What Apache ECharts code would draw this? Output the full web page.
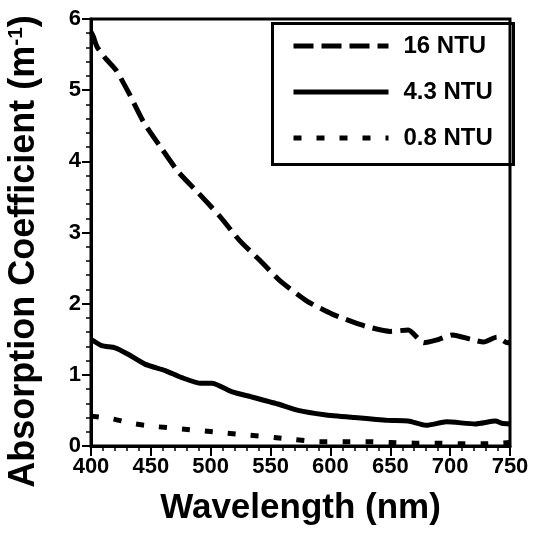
<!DOCTYPE html>
<html>
<head>
<meta charset="utf-8">
<script src="https://cdn.jsdelivr.net/npm/echarts@6/dist/echarts.min.js"></script>
<style>html,body{margin:0;padding:0;background:#fff}#c{width:533px;height:533px}</style>
</head>
<body>
<div id="c"></div>
<script>
// Series names
var seriesNames = ['16 NTU', '4.3 NTU', '0.8 NTU'];
// 16 NTU
var wl16 = [400, 402, 405, 412, 421, 431, 444, 459, 473, 490, 508, 524, 541, 558, 580, 602, 628, 650, 665, 678, 689, 702, 717, 728, 739, 748, 750];
var a16 = [5.82, 5.75, 5.61, 5.45, 5.28, 4.98, 4.55, 4.18, 3.85, 3.55, 3.22, 2.89, 2.61, 2.32, 2.04, 1.85, 1.69, 1.61, 1.63, 1.45, 1.49, 1.56, 1.50, 1.46, 1.53, 1.45, 1.46];
// 4.3 NTU
var wl43 = [400, 409, 420, 431, 445, 462, 476, 492, 501, 518, 534, 556, 573, 595, 620, 648, 665, 680, 697, 721, 738, 743, 750];
var a43 = [1.50, 1.41, 1.38, 1.29, 1.15, 1.06, 0.96, 0.88, 0.88, 0.76, 0.69, 0.59, 0.50, 0.44, 0.40, 0.36, 0.35, 0.29, 0.34, 0.31, 0.35, 0.32, 0.31];
// 0.8 NTU
var wl08 = [400, 418, 437, 456, 476, 495, 514, 533, 553, 571, 591, 611, 630, 650, 670, 689, 708, 728, 750];
var a08 = [0.42, 0.38, 0.31, 0.27, 0.24, 0.21, 0.18, 0.15, 0.12, 0.09, 0.06, 0.06, 0.06, 0.05, 0.04, 0.04, 0.03, 0.03, 0.05];

function pairs(xs, ys) { return xs.map(function (x, i) { return [x, ys[i]]; }); }

var FONT = 'Liberation Sans, Arial, Helvetica, sans-serif';
var chart = echarts.init(document.getElementById('c'), null, { renderer: 'canvas' });
chart.setOption({
  backgroundColor: '#fff',
  animation: false,
  grid: { left: 91, right: 23, top: 19, bottom: 87, show: true, borderColor: '#000', borderWidth: 3, backgroundColor: 'transparent', containLabel: false, outerBoundsMode: 'none' },
  xAxis: {
    type: 'value', min: 400, max: 750, interval: 50,
    name: 'Wavelength (nm)', nameLocation: 'middle', nameGap: 45,
    nameTextStyle: { fontFamily: FONT, fontWeight: 'bold', fontSize: 35, color: '#000' },
    axisLine: { show: true, onZero: false, lineStyle: { color: '#000', width: 3 } },
    axisTick: { show: true, length: 10, lineStyle: { color: '#000', width: 2 } },
    minorTick: { show: true, splitNumber: 5, length: 5, lineStyle: { color: '#000', width: 1.5 } },
    splitLine: { show: false },
    axisLabel: { margin: 10, fontFamily: FONT, fontWeight: 'bold', fontSize: 22, color: '#000' }
  },
  yAxis: {
    type: 'value', min: 0, max: 6, interval: 1,
    name: 'Absorption Coefficient (m{sup|-1})', nameLocation: 'middle', nameGap: 49, nameRotate: 90,
    nameTextStyle: { fontFamily: FONT, fontWeight: 'bold', fontSize: 36, color: '#000', padding: [0, 38, 0, 0],
      rich: { sup: { fontFamily: FONT, fontWeight: 'bold', fontSize: 21, color: '#000', verticalAlign: 'top', padding: [0, 0, 14, 0] } } },
    axisLine: { show: true, onZero: false, lineStyle: { color: '#000', width: 3 } },
    axisTick: { show: true, length: 9, lineStyle: { color: '#000', width: 2 } },
    minorTick: { show: true, splitNumber: 5, length: 5, lineStyle: { color: '#000', width: 1.5 } },
    splitLine: { show: false },
    axisLabel: { margin: 10, fontFamily: FONT, fontWeight: 'bold', fontSize: 22, color: '#000' }
  },
  legend: {
    orient: 'vertical', left: 286, top: 29, itemWidth: 95, itemHeight: 14, itemGap: 22,
    selectedMode: false,
    data: seriesNames,
    itemStyle: { color: 'transparent', borderWidth: 0, opacity: 0 },
    lineStyle: { width: 5, color: '#000' },
    textStyle: { fontFamily: FONT, fontWeight: 'bold', fontSize: 24, color: '#000', padding: [0, 0, 0, 10] }
  },
  graphic: [{
    type: 'rect', left: 270, top: 21, z: 100,
    shape: { width: 241, height: 141 },
    style: { fill: 'none', stroke: '#000', lineWidth: 3 }
  }],
  series: [
    { name: seriesNames[0], type: 'line', data: pairs(wl16, a16), symbol: 'none', smooth: 0.2,
      lineStyle: { color: '#000', width: 5, type: [20, 8], cap: 'butt' }, itemStyle: { color: '#000' } },
    { name: seriesNames[1], type: 'line', data: pairs(wl43, a43), symbol: 'none', smooth: 0.2,
      lineStyle: { color: '#000', width: 5, type: 'solid' }, itemStyle: { color: '#000' } },
    { name: seriesNames[2], type: 'line', data: pairs(wl08, a08), symbol: 'none', smooth: 0.2,
      lineStyle: { color: '#000', width: 5, type: [8, 15], cap: 'butt' }, itemStyle: { color: '#000' } }
  ]
});
</script>
</body>
</html>
